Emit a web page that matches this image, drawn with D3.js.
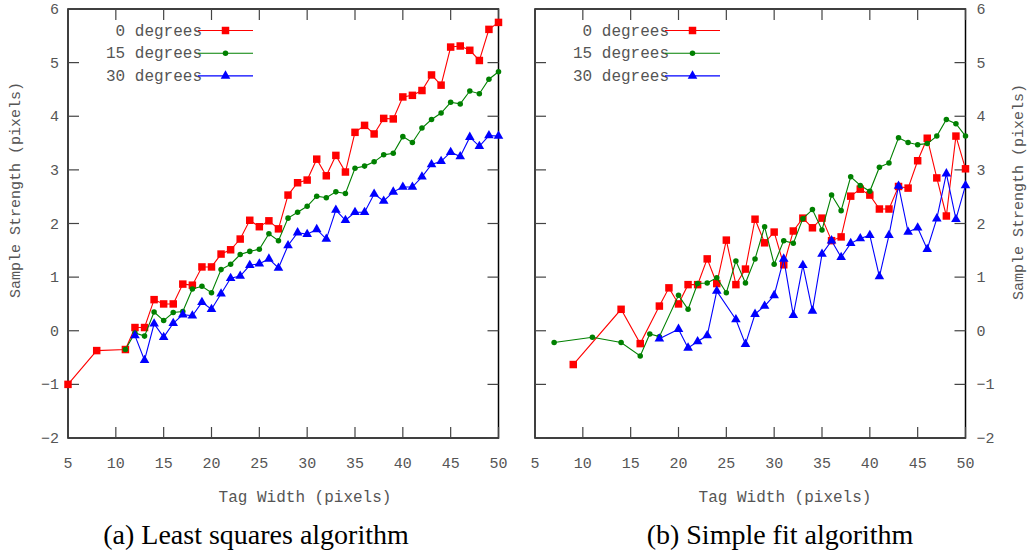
<!DOCTYPE html>
<html>
<head>
<meta charset="utf-8">
<script src="https://cdn.jsdelivr.net/npm/d3@7"></script>
<style>
  body { margin: 0; background: #fff; }
  svg { display: block; }
  .mono { font-family: "Liberation Mono", "DejaVu Sans Mono", monospace; fill: #555; }
  .cap { font-family: "Liberation Serif", "DejaVu Serif", serif; fill: #000; }
</style>
</head>
<body>
<div id="chart"></div>
<script>
// ticks
const xTicks = [5, 10, 15, 20, 25, 30, 35, 40, 45, 50];
const yTicks = [-2, -1, 0, 1, 2, 3, 4, 5, 6];
const seriesNames = ["0 degrees", "15 degrees", "30 degrees"];

// (a) least squares
const lsRedX = [5, 8, 11, 12, 13, 14, 15, 16, 17, 18, 19, 20, 21, 22, 23, 24, 25, 26, 27, 28, 29, 30,
  31, 32, 33, 34, 35, 36, 37, 38, 39, 40, 41, 42, 43, 44, 45, 46, 47, 48, 49, 50];
const lsRed = [-1.0, -0.37, -0.35, 0.06, 0.06, 0.58, 0.50, 0.50, 0.87, 0.85, 1.19, 1.19, 1.43, 1.51,
  1.71, 2.06, 1.94, 2.05, 1.90, 2.53, 2.76, 2.81, 3.20, 2.89, 3.27, 2.96, 3.70, 3.83, 3.67, 3.96, 3.95,
  4.36, 4.39, 4.48, 4.77, 4.58, 5.29, 5.31, 5.23, 5.04, 5.62, 5.75];
const lsGreenX = [11, 12, 13, 14, 15, 16, 17, 18, 19, 20, 21, 22, 23, 24, 25, 26, 27, 28, 29, 30,
  31, 32, 33, 34, 35, 36, 37, 38, 39, 40, 41, 42, 43, 44, 45, 46, 47, 48, 49, 50];
const lsGreen = [-0.35, -0.04, -0.10, 0.35, 0.19, 0.34, 0.36, 0.78, 0.83, 0.71, 1.14, 1.24, 1.42, 1.48,
  1.52, 1.81, 1.68, 2.10, 2.21, 2.32, 2.51, 2.48, 2.59, 2.56, 3.03, 3.07, 3.15, 3.28, 3.31, 3.62, 3.51,
  3.78, 3.94, 4.06, 4.26, 4.23, 4.47, 4.42, 4.69, 4.83];
const lsBlueX = [12, 13, 14, 15, 16, 17, 18, 19, 20, 21, 22, 23, 24, 25, 26, 27, 28, 29, 30,
  31, 32, 33, 34, 35, 36, 37, 38, 39, 40, 41, 42, 43, 44, 45, 46, 47, 48, 49, 50];
const lsBlue = [-0.09, -0.55, 0.13, -0.12, 0.14, 0.30, 0.28, 0.53, 0.40, 0.69, 0.98, 1.02, 1.22, 1.25,
  1.34, 1.17, 1.59, 1.83, 1.80, 1.89, 1.71, 2.25, 2.06, 2.21, 2.21, 2.55, 2.42, 2.59, 2.68, 2.68, 2.87,
  3.10, 3.16, 3.33, 3.25, 3.61, 3.44, 3.64, 3.63];

// (b) simple fit
const sfRedX = [9, 14, 16, 18, 19, 20, 21, 22, 23, 24, 25, 26, 27, 28, 29, 30, 31, 32, 33, 34, 35,
  36, 37, 38, 39, 40, 41, 42, 43, 44, 45, 46, 47, 48, 49, 50];
const sfRed = [-0.63, 0.40, -0.24, 0.46, 0.80, 0.50, 0.86, 0.86, 1.34, 0.88, 1.69, 0.86, 1.15, 2.08,
  1.64, 1.84, 1.23, 1.86, 2.10, 1.92, 2.10, 1.68, 1.75, 2.51, 2.64, 2.53, 2.27, 2.27, 2.69, 2.66, 3.17,
  3.59, 2.85, 2.14, 3.63, 3.02];
const sfGreenX = [7, 11, 14, 16, 17, 18, 20, 21, 22, 23, 24, 25, 26, 27, 28, 29, 30, 31, 32, 33, 34,
  35, 36, 37, 38, 39, 40, 41, 42, 43, 44, 45, 46, 47, 48, 49, 50];
const sfGreen = [-0.22, -0.12, -0.22, -0.47, -0.06, -0.11, 0.66, 0.40, 0.88, 0.89, 0.99, 0.71, 1.30,
  0.89, 1.34, 1.94, 1.24, 1.68, 1.63, 2.09, 2.26, 1.88, 2.53, 2.24, 2.87, 2.71, 2.60, 3.05, 3.13, 3.60,
  3.51, 3.47, 3.49, 3.63, 3.94, 3.86, 3.63];
const sfBlueX = [18, 20, 21, 22, 23, 24, 26, 27, 28, 29, 30, 31, 32, 33, 34, 35, 36, 37, 38, 39, 40,
  41, 42, 43, 44, 45, 46, 47, 48, 49, 50];
const sfBlue = [-0.15, 0.03, -0.32, -0.20, -0.09, 0.74, 0.21, -0.25, 0.31, 0.46, 0.66, 1.34, 0.29,
  1.22, 0.37, 1.43, 1.68, 1.37, 1.63, 1.72, 1.78, 1.01, 1.78, 2.70, 1.84, 1.92, 1.52, 2.09, 2.93, 2.08,
  2.71];

const W = 1027, H = 553;
const colors = ["#ff0000", "#008000", "#0000ff"];
const symbols = [d3.symbolSquare, d3.symbolCircle, d3.symbolTriangle];
const symSize = [56, 24, 40];

const svg = d3.select("#chart").append("svg")
  .attr("width", W).attr("height", H);

function drawPanel(opt) {
  const x = d3.scaleLinear().domain([5, 50]).range([opt.left, opt.right]);
  const y = d3.scaleLinear().domain([-2, 6]).range([438, 9]);
  const g = svg.append("g");
  const tick = 11;

  // frame
  g.append("rect")
    .attr("x", x(5)).attr("y", y(6))
    .attr("width", x(50) - x(5)).attr("height", y(-2) - y(6))
    .attr("fill", "none").attr("stroke", "#000").attr("stroke-width", 1.5);

  // inward ticks on all four sides
  g.append("g").selectAll("line.xb").data(xTicks).join("line")
    .attr("x1", d => x(d)).attr("x2", d => x(d))
    .attr("y1", y(-2)).attr("y2", y(-2) - tick)
    .attr("stroke", "#444").attr("stroke-width", 1.2);
  g.append("g").selectAll("line.xt").data(xTicks).join("line")
    .attr("x1", d => x(d)).attr("x2", d => x(d))
    .attr("y1", y(6)).attr("y2", y(6) + tick)
    .attr("stroke", "#444").attr("stroke-width", 1.2);
  g.append("g").selectAll("line.yl").data(yTicks).join("line")
    .attr("x1", x(5)).attr("x2", x(5) + tick)
    .attr("y1", d => y(d)).attr("y2", d => y(d))
    .attr("stroke", "#444").attr("stroke-width", 1.2);
  g.append("g").selectAll("line.yr").data(yTicks).join("line")
    .attr("x1", x(50)).attr("x2", x(50) - tick)
    .attr("y1", d => y(d)).attr("y2", d => y(d))
    .attr("stroke", "#444").attr("stroke-width", 1.2);

  // x tick labels
  g.append("g").selectAll("text").data(xTicks).join("text")
    .attr("class", "mono").attr("font-size", 15)
    .attr("x", d => x(d)).attr("y", 468)
    .attr("text-anchor", "middle")
    .text(d => d);

  // y tick labels
  const lab = g.append("g").selectAll("text").data(yTicks).join("text")
    .attr("class", "mono").attr("font-size", 15)
    .attr("y", d => y(d) + 5)
    .text(d => d < 0 ? "\u2212" + Math.abs(d) : d);
  if (opt.yLabelSide === "left") {
    lab.attr("x", x(5) - 9).attr("text-anchor", "end");
  } else {
    lab.attr("x", x(50) + 11).attr("text-anchor", "start");
  }

  // axis titles
  g.append("text").attr("class", "mono").attr("font-size", 16)
    .attr("x", opt.xTitleX).attr("y", 502).attr("text-anchor", "middle")
    .text("Tag Width (pixels)");
  g.append("text").attr("class", "mono").attr("font-size", 15)
    .attr("transform", `translate(${opt.yTitleX},${opt.yTitleY}) rotate(-90)`)
    .attr("text-anchor", "middle")
    .text("Sample Strength (pixels)");

  // caption
  g.append("text").attr("class", "cap").attr("font-size", 28)
    .attr("x", opt.capX).attr("y", 544).attr("text-anchor", "middle")
    .text(opt.caption);

  // series
  const line = d3.line().x(d => x(d[0])).y(d => y(d[1]));
  opt.series.forEach((s, i) => {
    const pts = s.x.map((v, j) => [v, s.y[j]]);
    g.append("path").datum(pts)
      .attr("d", line)
      .attr("fill", "none").attr("stroke", colors[i]).attr("stroke-width", 1.1);
    g.append("g").selectAll("path").data(pts).join("path")
      .attr("transform", d => `translate(${x(d[0])},${y(d[1])})`)
      .attr("d", d3.symbol(symbols[i], symSize[i]))
      .attr("fill", colors[i]);
  });

  // legend
  const lg = g.append("g");
  seriesNames.forEach((name, i) => {
    const ly = 30.5 + i * 22.7;
    const lx = x(5) + 130;
    lg.append("text").attr("class", "mono").attr("font-size", 16)
      .attr("x", lx + 4).attr("y", ly + 5).attr("text-anchor", "end")
      .text(name);
    lg.append("line")
      .attr("x1", lx).attr("x2", lx + 55).attr("y1", ly).attr("y2", ly)
      .attr("stroke", colors[i]).attr("stroke-width", 1.1);
    lg.append("path")
      .attr("transform", `translate(${lx + 27.5},${ly})`)
      .attr("d", d3.symbol(symbols[i], symSize[i]))
      .attr("fill", colors[i]);
  });
}

drawPanel({
  left: 68, right: 498.5, yLabelSide: "left",
  xTitleX: 305, yTitleX: 20, yTitleY: 190,
  capX: 256, caption: "(a) Least squares algorithm",
  series: [{x: lsRedX, y: lsRed}, {x: lsGreenX, y: lsGreen}, {x: lsBlueX, y: lsBlue}]
});
drawPanel({
  left: 535, right: 965.5, yLabelSide: "right",
  xTitleX: 785, yTitleX: 1023, yTitleY: 192,
  capX: 780, caption: "(b) Simple fit algorithm",
  series: [{x: sfRedX, y: sfRed}, {x: sfGreenX, y: sfGreen}, {x: sfBlueX, y: sfBlue}]
});
</script>
</body>
</html>
